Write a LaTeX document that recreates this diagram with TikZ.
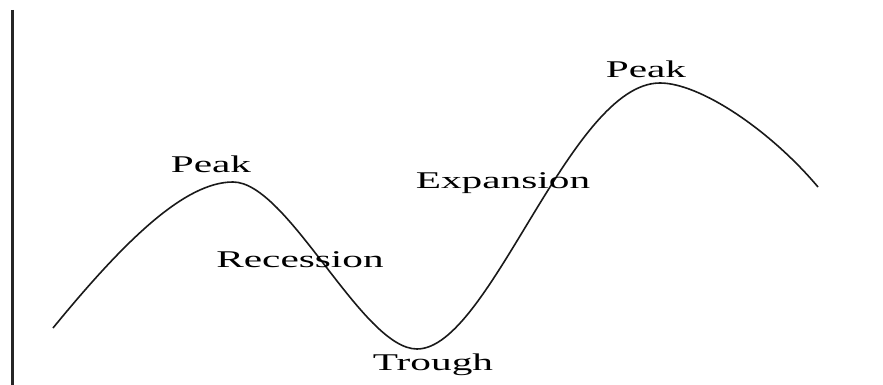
\documentclass[tikz,border=0pt]{standalone}
\usepackage{fontspec}
\setmainfont{Liberation Serif}
\begin{document}
\begin{tikzpicture}[
  x=1pt, y=-1pt,
  lbl/.style={anchor=base, inner sep=0pt, font=\fontsize{24}{28}\selectfont},
  axis/.style={line width=3pt, black!85},
  cycle/.style={line width=1.6pt, black!90}
]
  \useasboundingbox (0,0) rectangle (883,385);

  \draw[axis] (12,10) -- (12,385);
  \draw[cycle] (53,328) .. controls (125,240) and (185,182) .. (233,182)
    .. controls (288,182) and (362,349) .. (417,349)
    .. controls (490,349) and (570,83) .. (660,83)
    .. controls (700,83) and (770,130) .. (818,187);

  \node[lbl] (peakA)     at (211,172) {\scalebox{1.72}[1]{Peak}};
  \node[lbl] (recession) at (300,267) {\scalebox{1.72}[1]{Recession}};
  \node[lbl] (trough)    at (433,370) {\scalebox{1.72}[1]{Trough}};
  \node[lbl] (expansion) at (503,188) {\scalebox{1.72}[1]{Expansion}};
  \node[lbl] (peakB)     at (646,78)  {\scalebox{1.72}[1]{Peak}};
\end{tikzpicture}
\end{document}
